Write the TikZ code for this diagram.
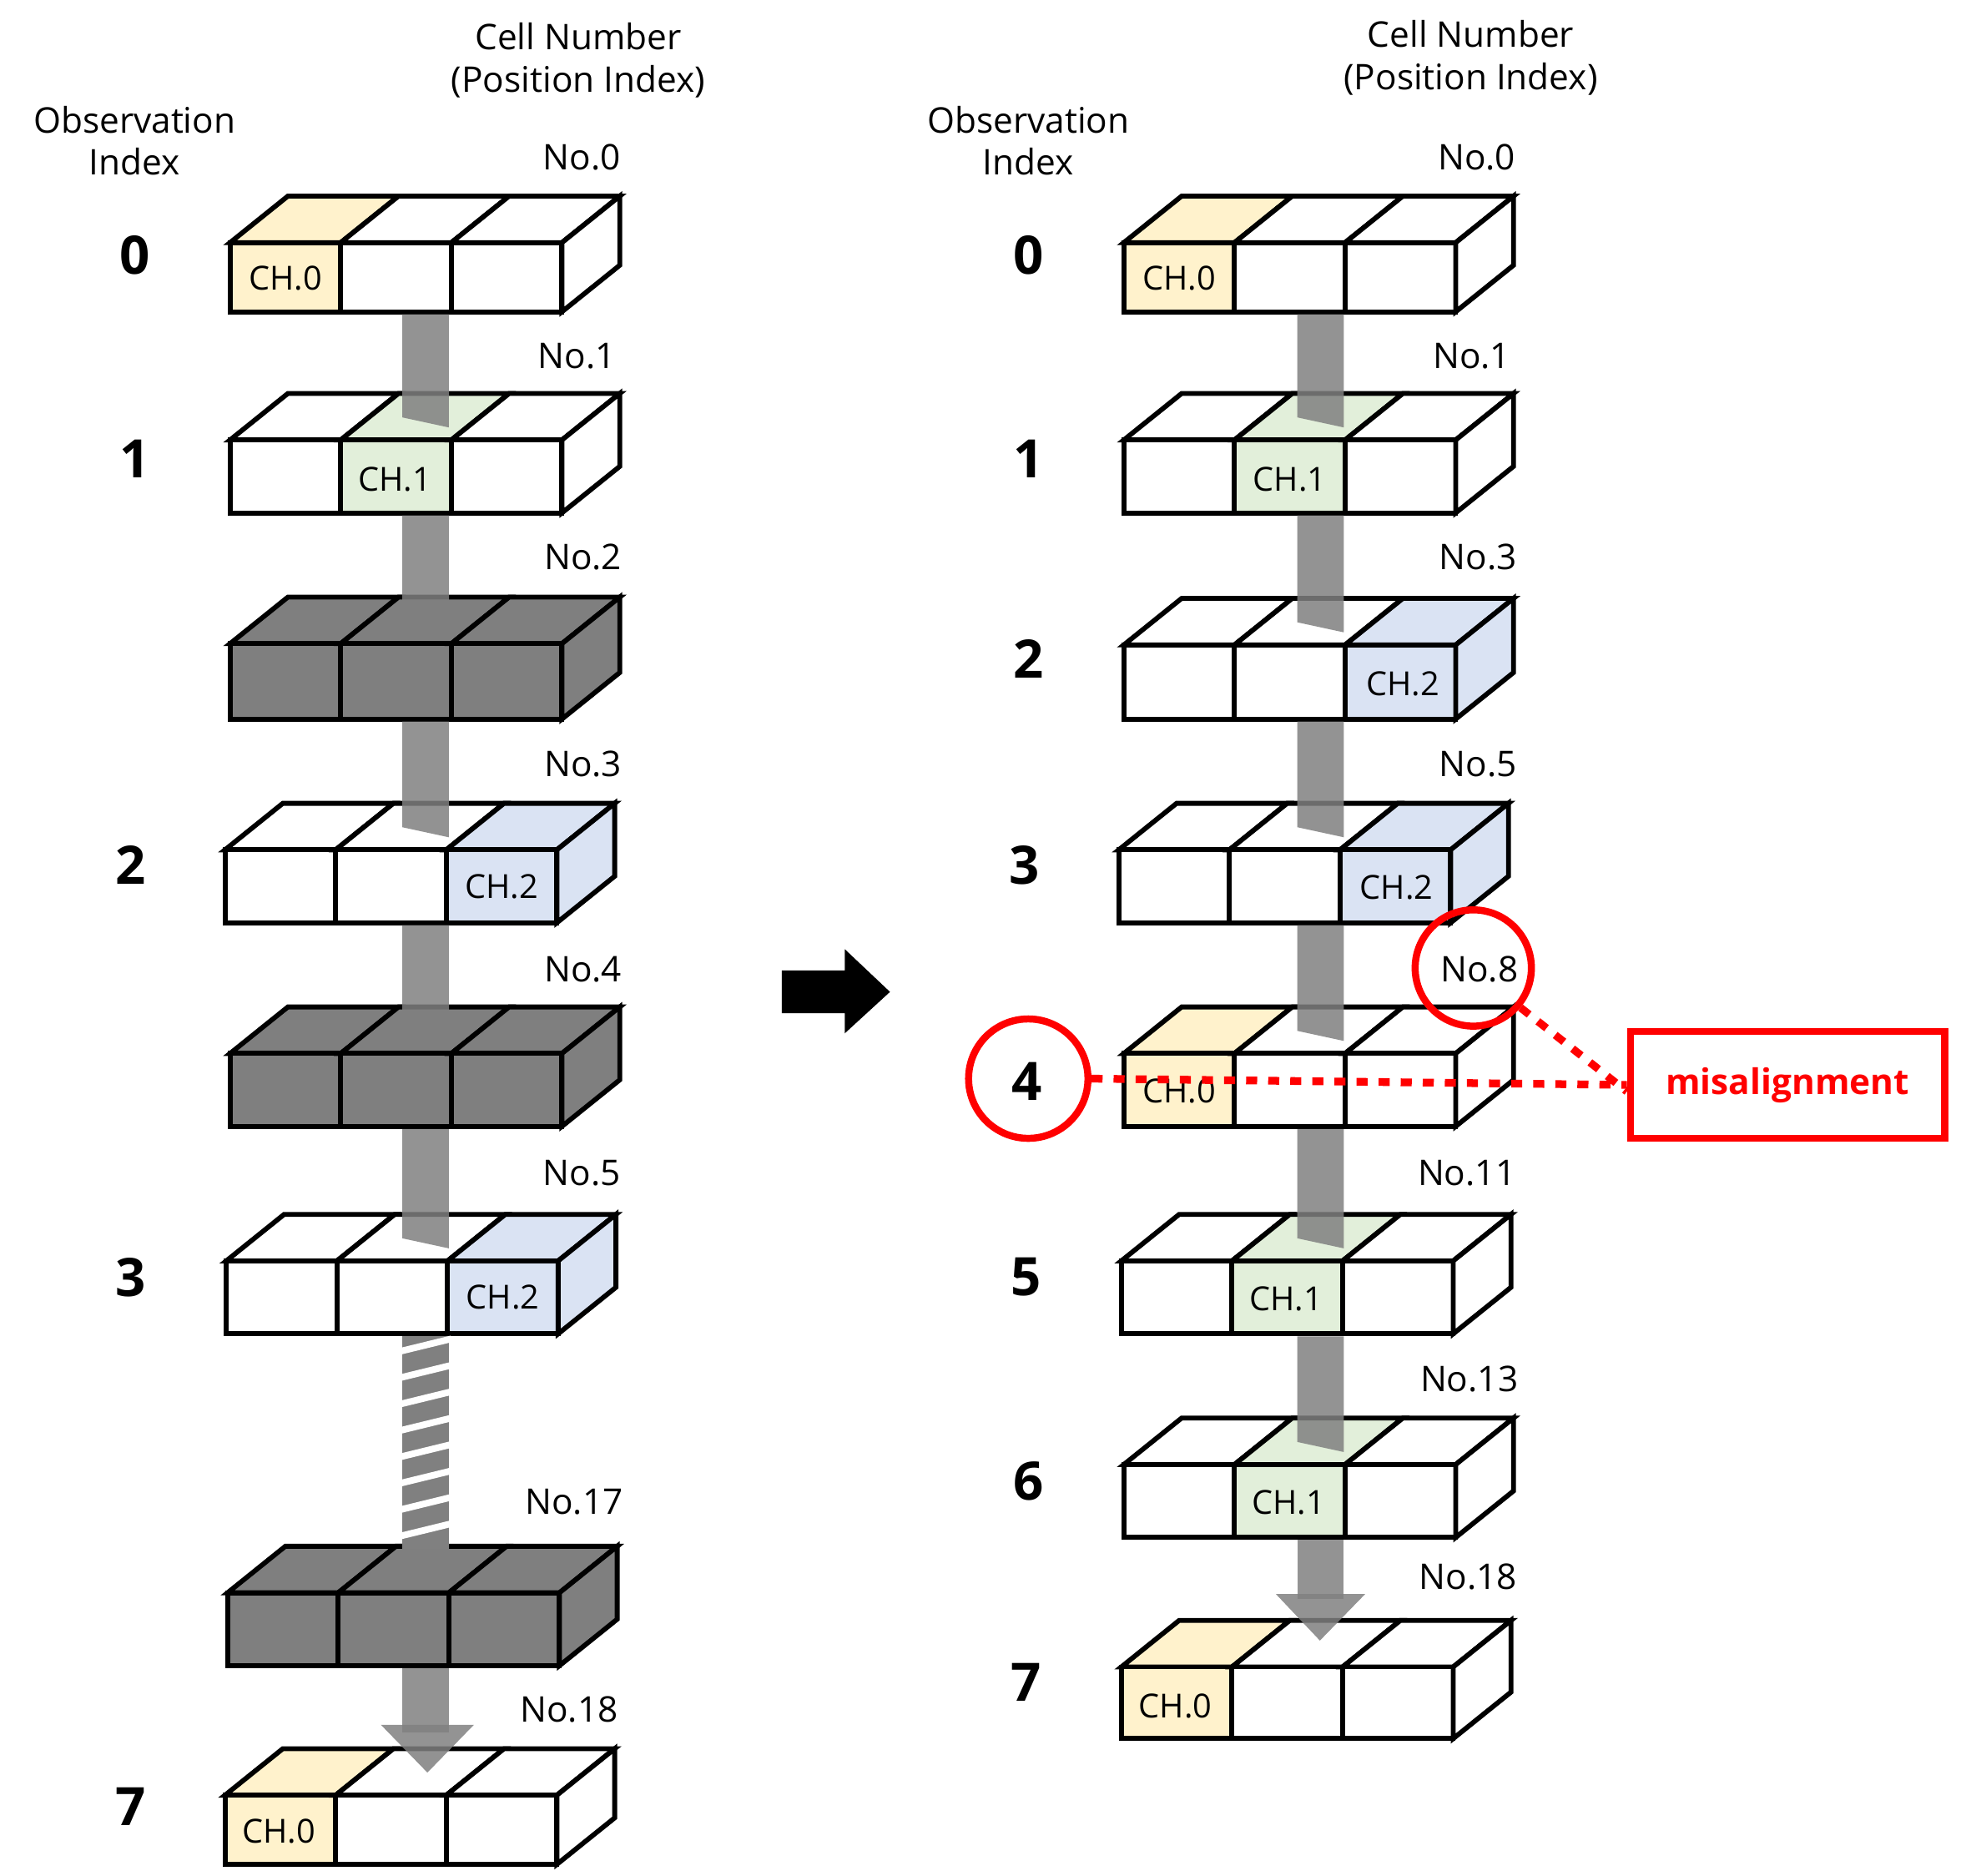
\documentclass[tikz,border=0pt]{standalone}
\usepackage{fontspec}
\setmainfont{Open Sans}
\begin{document}
\definecolor{cy}{HTML}{FFF2CC}
\definecolor{cg}{HTML}{E2EFDA}
\definecolor{cb}{HTML}{DAE3F3}
\definecolor{dk}{HTML}{7F7F7F}
\definecolor{bar}{HTML}{808080}
\begin{tikzpicture}[x=0.02cm,y=-0.02cm,
  edge/.style={line width=2.2pt,line join=miter},
  lbl/.style={font=\fontsize{16}{18}\selectfont,anchor=east,inner sep=0},
  obs/.style={font=\fontsize{24}{26}\selectfont\bfseries,inner sep=0},
  hdr/.style={font=\fontsize{16}{19}\selectfont,align=center,inner sep=0},
  ch/.style={font=\fontsize{15}{17}\selectfont,inner sep=0},
  barf/.style={fill=bar,fill opacity=0.85,draw=none},
  red/.style={draw=red,line width=3.2pt},
  rdot/.style={draw=red,line width=3.5pt,dash pattern=on 5pt off 5pt}]
\useasboundingbox (0,0) rectangle (1560,1492);
% #1 x, #2 y top front, #3 h, #4 #5 #6 fills, #7 side fill
\newcommand{\cblock}[7]{%
  \foreach \i/\c in {0/#4,1/#5,2/#6}{%
    \filldraw[edge,fill=\c] ({#1+88*\i},#2) -- ({#1+88*(\i+1)},#2) -- ({#1+88*(\i+1)+46},{#2-37}) -- ({#1+88*\i+46},{#2-37}) -- cycle;
    \filldraw[edge,fill=\c] ({#1+88*\i},#2) rectangle ({#1+88*(\i+1)},{#2+#3});
  }
  \filldraw[edge,fill=#7] ({#1+264},#2) -- ({#1+310},{#2-37}) -- ({#1+310},{#2-37+#3}) -- ({#1+264},{#2+#3}) -- cycle;
}
\newcommand{\gbar}[3]{% x, from y, to y (front top of next)
  \fill[barf] (#1,#2) -- ({#1+37},#2) -- ({#1+37},{#3-10}) -- (#1,{#3-18}) -- cycle;}
% headers
\node[hdr] (oh1) at (107,112) {Observation\\Index};
\node[hdr] (ch1) at (460,48) {Cell Number\\(Position Index)};
\node[hdr] (oh2) at (818,112) {Observation\\Index};
\node[hdr] (ch2) at (1170,46) {Cell Number\\(Position Index)};
% left column blocks
\cblock{183}{193}{55}{cy}{white}{white}{white}
\cblock{183}{350}{58}{white}{cg}{white}{white}
\cblock{183}{512}{60}{dk}{dk}{dk}{dk}
\cblock{179}{676}{58}{white}{white}{cb}{cb}
\cblock{183}{838}{58}{dk}{dk}{dk}{dk}
\cblock{180}{1003}{58}{white}{white}{cb}{cb}
\cblock{181}{1267}{58}{dk}{dk}{dk}{dk}
\cblock{179}{1428}{55}{cy}{white}{white}{white}
\node[ch] (l0) at (227,221) {CH.0};
\node[ch] (l1) at (314,381) {CH.1};
\node[ch] (l3) at (399,705) {CH.2};
\node[ch] (l5) at (400,1032) {CH.2};
\node[ch] (l7) at (222,1457) {CH.0};
\gbar{320}{250}{350}
\gbar{320}{410}{512}
\gbar{320}{574}{676}
\gbar{320}{736}{838}
\gbar{320}{898}{1003}
% hatched part
\fill[bar] (320,1063) rectangle (357,1232);
\foreach \k in {0,...,7}{\draw[white,line width=3pt] (318,{1075+21*\k}) -- (359,{1065+21*\k});}
\gbar{320}{1232}{1267}
\fill[barf] (320,1327) rectangle (357,1378);
\fill[barf] (303,1372) -- (377,1372) -- (340,1410) -- cycle;
\node[lbl] (n0) at (494,125) {No.0};
\node[lbl] (n1) at (490,283) {No.1};
\node[lbl] (n2) at (495,443) {No.2};
\node[lbl] (n3) at (495,608) {No.3};
\node[lbl] (n4) at (495,771) {No.4};
\node[lbl] (n5) at (494,933) {No.5};
\node[lbl] (n17) at (496,1195) {No.17};
\node[lbl] (n18) at (492,1360) {No.18};
\node[obs] (o0) at (107,203) {0};
\node[obs] (o1) at (107,365) {1};
\node[obs] (o2) at (104,688) {2};
\node[obs] (o3) at (104,1016) {3};
\node[obs] (o7) at (104,1437) {7};
% arrow
\fill[black] (622,772) -- (672,772) -- (672,755) -- (708,789) -- (672,822) -- (672,806) -- (622,806) -- cycle;
% right column
\cblock{894}{193}{55}{cy}{white}{white}{white}
\cblock{894}{350}{58}{white}{cg}{white}{white}
\cblock{894}{513}{59}{white}{white}{cb}{cb}
\cblock{890}{676}{58}{white}{white}{cb}{cb}
\cblock{894}{838}{58}{cy}{white}{white}{white}
\cblock{892}{1003}{58}{white}{cg}{white}{white}
\cblock{894}{1165}{58}{white}{cg}{white}{white}
\cblock{892}{1326}{57}{cy}{white}{white}{white}
\node[ch] (r0) at (938,221) {CH.0};
\node[ch] (r1) at (1026,381) {CH.1};
\node[ch] (r2) at (1116,544) {CH.2};
\node[ch] (r3) at (1111,706) {CH.2};
\node[ch] (r4) at (938,868) {CH.0};
\node[ch] (r5) at (1023,1033) {CH.1};
\node[ch] (r6) at (1025,1195) {CH.1};
\node[ch] (r7) at (935,1357) {CH.0};
\gbar{1032}{250}{350}
\gbar{1032}{410}{513}
\gbar{1032}{574}{676}
\gbar{1032}{736}{838}
\gbar{1032}{898}{1003}
\gbar{1032}{1063}{1165}
\fill[barf] (1032,1225) rectangle (1069,1272);
\fill[barf] (1015,1268) -- (1086,1268) -- (1050,1305) -- cycle;
\node[lbl] (m0) at (1206,125) {No.0};
\node[lbl] (m1) at (1202,283) {No.1};
\node[lbl] (m3) at (1207,443) {No.3};
\node[lbl] (m5) at (1207,608) {No.5};
\node[lbl] (m8) at (1208,771) {No.8};
\node[lbl] (m11) at (1206,933) {No.11};
\node[lbl] (m13) at (1208,1097) {No.13};
\node[lbl] (m18) at (1207,1254) {No.18};
\node[obs] (p0) at (818,203) {0};
\node[obs] (p1) at (818,365) {1};
\node[obs] (p2) at (818,524) {2};
\node[obs] (p3) at (815,688) {3};
\node[obs] (p4) at (817,860) {4};
\node[obs] (p5) at (816,1016) {5};
\node[obs] (p6) at (818,1178) {6};
\node[obs] (p7) at (816,1338) {7};
% red annotations
\node[red,circle,minimum size=1.9cm] (c4) at (818,858) {};
\node[red,circle,minimum size=1.85cm] (c8) at (1172,770) {};
\node[red,minimum width=5cm,minimum height=1.7cm,text=red,font=\fontsize{16}{18}\selectfont\bfseries] (mis) at (1422,863) {misalignment};
\draw[rdot] (c4.east) -- (mis.west);
\draw[rdot] (c8.-40) -- ([yshift=-3pt]mis.west);
\end{tikzpicture}
\end{document}
